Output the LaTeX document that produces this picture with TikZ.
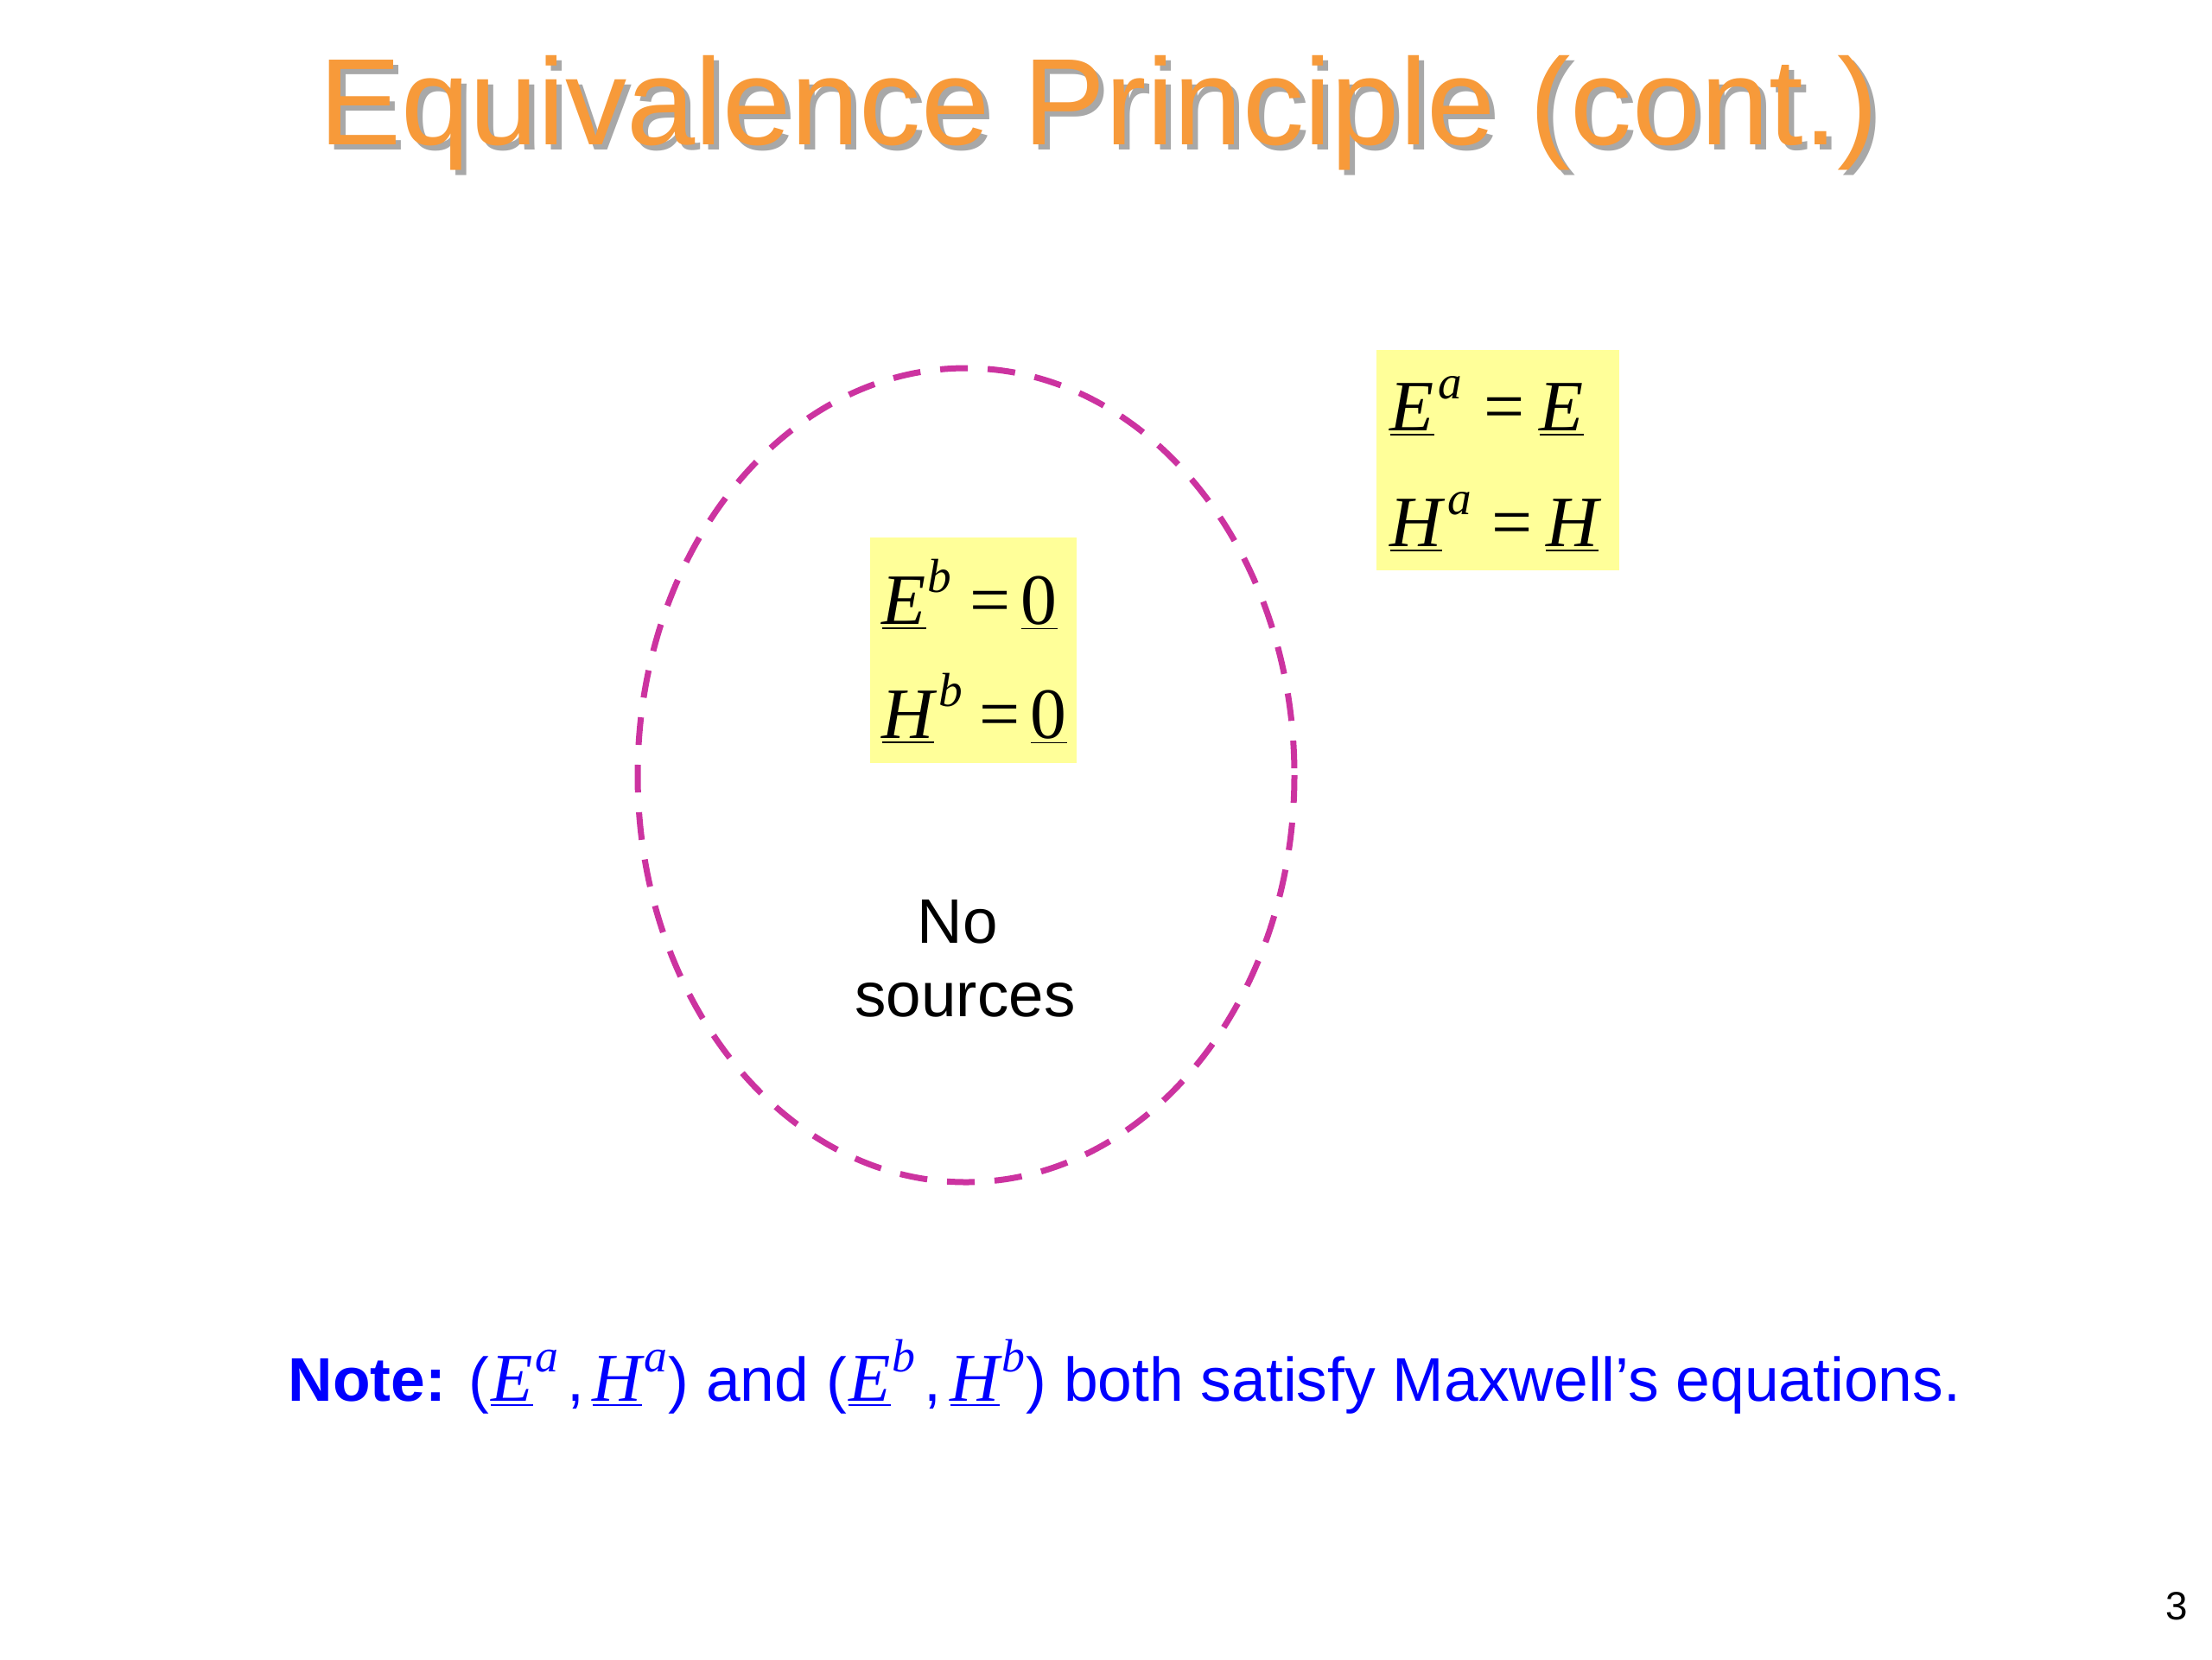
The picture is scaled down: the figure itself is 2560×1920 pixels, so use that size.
\documentclass[tikz,border=0pt]{standalone}
\usepackage{fontspec}
\setmainfont{Liberation Sans}
\newfontfamily\tms{Liberation Serif}
\definecolor{ttlorange}{HTML}{F79A3A}
\definecolor{ttlshadow}{HTML}{A8A8A8}
\definecolor{ringmag}{HTML}{CC33A0}
\definecolor{boxyellow}{HTML}{FFFF99}
\definecolor{noteblue}{HTML}{0000FF}
\newcommand{\vecu}[1]{\underline{#1}}
\newcommand{\supx}[1]{\raisebox{0.44em}{\fontsize{0.66em}{1em}\selectfont #1}}
\newcommand{\supn}[1]{\raisebox{0.42em}{\fontsize{0.68em}{1em}\selectfont #1}}
\newcommand{\nm}[2]{{\tms\itshape\fontsize{22.5}{26}\selectfont\vecu{#1}\hspace{0.03em}\supn{#2}}}
\newcommand{\shadowed}[1]{\rlap{\hspace{0.06cm}\raisebox{-0.06cm}{\textcolor{ttlshadow}{#1}}}\textcolor{ttlorange}{#1}}
\begin{document}
\begin{tikzpicture}[x=0.01cm,y=-0.01cm,
  ttl/.style={font=\fontsize{40.5}{48}\selectfont, inner sep=0pt, anchor=base},
  eqn/.style={font=\tms\itshape\fontsize{23.8}{28}\selectfont, inner sep=0pt, anchor=base west},
  plain/.style={font=\fontsize{20.7}{24}\selectfont, inner sep=0pt, anchor=base},
  ybox/.style={fill=boxyellow, draw=none},
  ring/.style={draw=ringmag, line width=7*0.01cm, dash pattern=on 0.32cm off 0.23cm}]
\useasboundingbox (0,0) rectangle (2560,1920);
\fill[white] (0,0) rectangle (2560,1920);
% title
\node[ttl] (title) at (1272,167) {\shadowed{Equivalence Principle (cont.)}};
% ellipse
\draw[ring] (1118,897) ellipse [x radius=380, y radius=471];
% boxes
\fill[ybox] (1593,405) rectangle (1874,660);
\fill[ybox] (1007,622) rectangle (1246,883);
% right box equations
\node[eqn] (ea) at (1608,498) {\vecu{E}\hspace{0.06em}\supx{a}\hspace{0.3em}{\upshape =}\hspace{0.2em}\vecu{E}};
\node[eqn] (ha) at (1608,632) {\vecu{H}\hspace{0.08em}\supx{a}\hspace{0.28em}{\upshape =}\hspace{0.18em}\vecu{H}};
% left box equations
\node[eqn] (eb) at (1020,722) {\vecu{E}\hspace{0.02em}\supx{b}\hspace{0.26em}{\upshape =}\hspace{0.14em}{\upshape\vecu{0}}};
\node[eqn] (hb) at (1020,854) {\vecu{H}\hspace{0.06em}\supx{b}\hspace{0.24em}{\upshape =}\hspace{0.14em}{\upshape\vecu{0}}};
% no sources
\node[plain] (no) at (1108,1091) {No};
\node[plain] (src) at (1117,1176) {sources};
% note
\node[font=\fontsize{20.3}{24}\selectfont, text=noteblue, inner sep=0pt, anchor=base west] (note) at (333,1621)
  {\textbf{Note:} (\hspace{0.03em}\nm{E}{a}\hspace{0.14em},\hspace{0.14em}\nm{H}{a}\hspace{0.02em}) and (\hspace{0.03em}\nm{E}{b}\hspace{0.14em},\hspace{0.14em}\nm{H}{b}\hspace{0.02em}) both satisfy Maxwell’s equations.};
% page number
\node[font=\fontsize{13}{15}\selectfont, inner sep=0pt, anchor=base east] (pg) at (2533,1874) {3};
\end{tikzpicture}
\end{document}
